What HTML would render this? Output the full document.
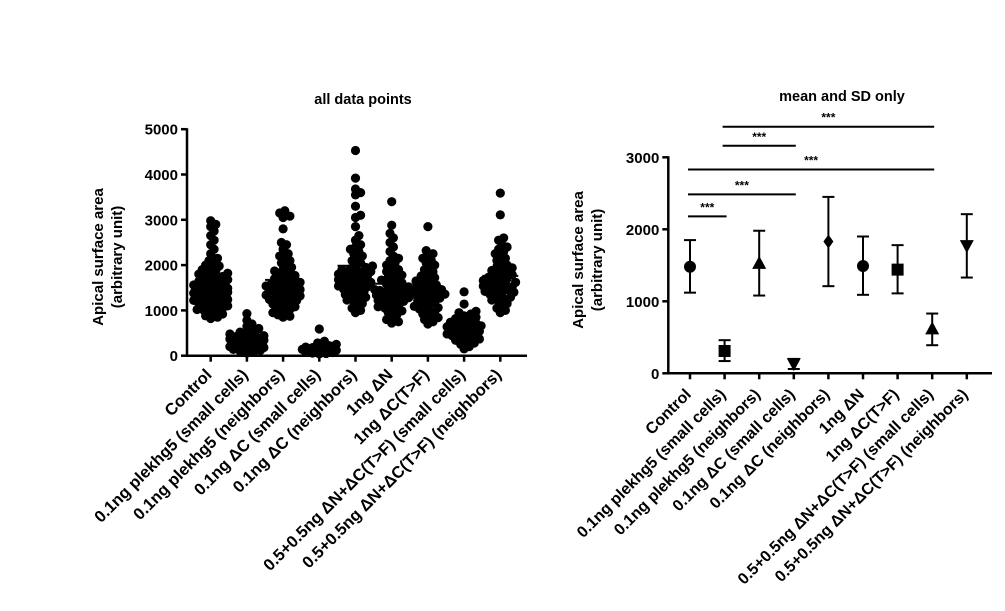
<!DOCTYPE html>
<html><head><meta charset="utf-8"><style>
body{margin:0;background:#fff}
svg text{font-family:"Liberation Sans",Arial,sans-serif;font-weight:bold;fill:#000}
</style></head><body>
<svg id="c" width="1005" height="606" viewBox="0 0 1005 606" xmlns="http://www.w3.org/2000/svg"></svg>
<script>
const categories=["Control","0.1ng plekhg5 (small cells)","0.1ng plekhg5 (neighbors)","0.1ng \u0394C (small cells)","0.1ng \u0394C (neighbors)","1ng \u0394N","1ng \u0394C(T>F)","0.5+0.5ng \u0394N+\u0394C(T>F) (small cells)","0.5+0.5ng \u0394N+\u0394C(T>F) (neighbors)"];
const g1=[2980,2900,2850,2750,2650,2550,2450,2350,2250,2150,2100,2050,2000,1980,1950,1900,1880,1850,1820,1800,1780,1750,1720,1700,1680,1660,1640,1620,1600,1580,1560,1540,1520,1500,1490,1480,1470,1460,1450,1440,1430,1420,1410,1400,1390,1380,1370,1360,1350,1340,1330,1320,1310,1300,1290,1280,1270,1260,1250,1240,1220,1200,1180,1160,1140,1120,1100,1080,1050,1020,1000,980,950,920,880,850,820];
const g2=[930,780,700,650,600,560,520,500,480,460,440,420,400,390,380,370,360,350,340,330,320,310,300,300,290,280,270,260,250,240,230,220,210,200,190,180,170,160,150,140,120,100,80,60];
const g3=[3200,3150,3080,3050,2800,2500,2450,2350,2250,2200,2150,2100,2050,2000,1950,1900,1870,1840,1800,1770,1740,1700,1680,1650,1620,1600,1580,1560,1540,1520,1500,1480,1460,1440,1420,1400,1380,1360,1340,1320,1300,1280,1260,1240,1220,1200,1170,1140,1110,1080,1050,1020,990,950,900,870,850];
const g4=[590,320,280,250,220,200,190,180,170,160,150,140,130,120,110,100,90,80,70,60,50,40];
const g5=[4530,3920,3680,3600,3550,3300,3100,3050,2850,2650,2550,2450,2400,2350,2300,2250,2200,2150,2100,2050,2000,1980,1950,1920,1900,1880,1860,1840,1820,1800,1780,1760,1740,1720,1700,1680,1660,1640,1620,1600,1580,1560,1540,1520,1500,1470,1440,1410,1380,1350,1320,1290,1260,1230,1200,1150,1100,1050,1000,950];
const g6=[3400,2880,2700,2600,2500,2400,2300,2200,2150,2100,2050,2000,1950,1900,1860,1820,1780,1740,1700,1670,1640,1610,1580,1550,1520,1500,1480,1460,1440,1420,1400,1380,1360,1340,1320,1300,1280,1260,1240,1220,1200,1170,1140,1110,1080,1050,1020,990,950,900,850,800,750,720];
const g7=[2850,2320,2250,2200,2150,2100,2050,2000,1950,1900,1850,1800,1760,1720,1680,1650,1620,1590,1560,1530,1500,1480,1460,1440,1420,1400,1380,1360,1340,1320,1300,1270,1240,1210,1180,1150,1120,1090,1060,1030,1000,960,920,880,840,800,750,700];
const g8=[1410,1140,980,950,920,880,850,820,790,760,740,720,700,680,660,640,620,600,580,560,540,520,500,480,460,440,420,400,370,340,310,280,250,200,150];
const g9=[3590,3110,2600,2550,2450,2400,2350,2300,2250,2200,2150,2100,2050,2000,1970,1940,1910,1880,1850,1820,1790,1760,1730,1700,1680,1660,1640,1620,1600,1580,1560,1540,1520,1500,1480,1460,1440,1420,1400,1380,1350,1320,1290,1260,1230,1200,1150,1100,1050,1000,950];
const groups=[g1,g2,g3,g4,g5,g6,g7,g8,g9];
const leftTicks=[0,1000,2000,3000,4000,5000];
const means=[1480,310,1520,140,1830,1490,1440,610,1780];
const sdLow=[1120,170,1080,60,1210,1090,1110,390,1330];
const sdHigh=[1850,460,1980,200,2450,1900,1780,830,2210];
const shapes=["circle","square","up","down","diamond","circle","square","up","down"];
const rightTicks=[0,1000,2000,3000];
const sigFrom=[1,1,0,0,0];
const sigTo=[7,3,7,3,1];
const sigLevel=[3425,3160,2830,2485,2180];

const S=document.getElementById('c');const NS="http://www.w3.org/2000/svg";
function mk(t,a,name,p){const e=document.createElementNS(NS,t);for(const k in a)e.setAttribute(k,a[k]);


(p||S).appendChild(e);return e;}
function txt(x,y,s,size,anchor,name,rot){const e=mk('text',{x:x,y:y,'font-size':size,'text-anchor':anchor},name);if(rot!==undefined)e.setAttribute('transform',`rotate(${rot} ${x} ${y})`);e.textContent=s;return e;}

// LEFT CHART
const Lx0=187,Lx1=527,Ly0=355.7,Lpx=45.3/1000;
const lx=i=>210.7+i*36.2, ly=v=>Ly0-v*Lpx;
txt(363,104,"all data points",14.5,"middle","left-title");
mk('line',{x1:Lx0,y1:ly(5000)-1,x2:Lx0,y2:Ly0+1,stroke:'#000','stroke-width':2.5},'left-y-axis');
mk('line',{x1:Lx0-1,y1:Ly0,x2:Lx1,y2:Ly0,stroke:'#000','stroke-width':2.5},'left-x-axis');
leftTicks.forEach(t=>{mk('line',{x1:Lx0-6,y1:ly(t),x2:Lx0,y2:ly(t),stroke:'#000','stroke-width':2.5},'left-y-tick');
txt(Lx0-9,ly(t)+5.5,String(t),15,"end","left-y-tick-label");});
const lyt=mk('text',{transform:'translate(103,257) rotate(-90)','text-anchor':'middle','font-size':15},'left-y-axis-title');
lyt.innerHTML='<tspan x="0" dy="0">Apical surface area</tspan><tspan x="0" dy="19">(arbitrary unit)</tspan>';
categories.forEach((c,i)=>{mk('line',{x1:lx(i),y1:Ly0,x2:lx(i),y2:Ly0+6,stroke:'#000','stroke-width':2.5},'left-x-tick');
txt(lx(i)+2,Ly0+20,c,16.5,"end","left-x-label",-45);});
groups.forEach((g,i)=>{const cx=lx(i);const placed=[];const sorted=[...g].sort((a,b)=>a-b);
sorted.forEach(v=>{const y=ly(v);let best=0,bestD=-1;
for(let k=0;k<21;k++){const o=(k%2?1:-1)*Math.ceil(k/2)*1.7;
let d=Infinity;placed.forEach(p=>{const dd=(p[0]-(cx+o))**2+(p[1]-y)**2;if(dd<d)d=dd;});
if(d>=30){best=o;bestD=d;break;}if(d>bestD){bestD=d;best=o;}}
placed.push([cx+best,y]);mk('circle',{cx:cx+best,cy:y,r:4.6,fill:'#000'},'data-point');});
const m=g.reduce((a,b)=>a+b,0)/g.length;
mk('line',{x1:cx-18,y1:ly(m),x2:cx+18,y2:ly(m),stroke:'#000','stroke-width':2},'mean-line');});

// RIGHT CHART
const Rx0=668.3,Rx1=992,Ry0=373.3,Rpx=72/1000;
const rx=i=>690+i*34.6, ry=v=>Ry0-v*Rpx;
txt(842,101,"mean and SD only",14.5,"middle","right-title");
mk('line',{x1:Rx0,y1:ry(3000)-1,x2:Rx0,y2:Ry0+1,stroke:'#000','stroke-width':2.5},'right-y-axis');
mk('line',{x1:Rx0-1,y1:Ry0,x2:Rx1,y2:Ry0,stroke:'#000','stroke-width':2.5},'right-x-axis');
rightTicks.forEach(t=>{mk('line',{x1:Rx0-6,y1:ry(t),x2:Rx0,y2:ry(t),stroke:'#000','stroke-width':2.5},'right-y-tick');
txt(Rx0-9,ry(t)+5.5,String(t),15,"end","right-y-tick-label");});
const ryt=mk('text',{transform:'translate(583,260) rotate(-90)','text-anchor':'middle','font-size':15},'right-y-axis-title');
ryt.innerHTML='<tspan x="0" dy="0">Apical surface area</tspan><tspan x="0" dy="19">(arbitrary unit)</tspan>';
categories.forEach((c,i)=>{mk('line',{x1:rx(i),y1:Ry0,x2:rx(i),y2:Ry0+6,stroke:'#000','stroke-width':2.5},'right-x-tick');
txt(rx(i)+2,Ry0+22,c,16,"end","right-x-label",-45);});
means.forEach((m,i)=>{const x=rx(i);
mk('line',{x1:x,y1:ry(sdLow[i]),x2:x,y2:ry(sdHigh[i]),stroke:'#000','stroke-width':2},'error-bar');
mk('line',{x1:x-6,y1:ry(sdLow[i]),x2:x+6,y2:ry(sdLow[i]),stroke:'#000','stroke-width':2},'error-cap');
mk('line',{x1:x-6,y1:ry(sdHigh[i]),x2:x+6,y2:ry(sdHigh[i]),stroke:'#000','stroke-width':2},'error-cap');
const y=ry(m),s=shapes[i];
if(s==='circle')mk('circle',{cx:x,cy:y,r:6},'mean-marker');
else if(s==='square')mk('rect',{x:x-6,y:y-6,width:12,height:12},'mean-marker');
else if(s==='up')mk('polygon',{points:`${x},${y-8} ${x-7},${y+5} ${x+7},${y+5}`},'mean-marker');
else if(s==='down')mk('polygon',{points:`${x},${y+8} ${x-7},${y-5} ${x+7},${y-5}`},'mean-marker');
else mk('polygon',{points:`${x},${y-7} ${x-5},${y} ${x},${y+7} ${x+5},${y}`},'mean-marker');});
sigFrom.forEach((f,k)=>{const y=ry(sigLevel[k]);const x1=rx(f)-2,x2=rx(sigTo[k])+2;
mk('line',{x1:x1,y1:y,x2:x2,y2:y,stroke:'#000','stroke-width':2},'significance-bar');
txt((x1+x2)/2,y-5,"***",12,"middle","significance-label");});
</script>
</body></html>
